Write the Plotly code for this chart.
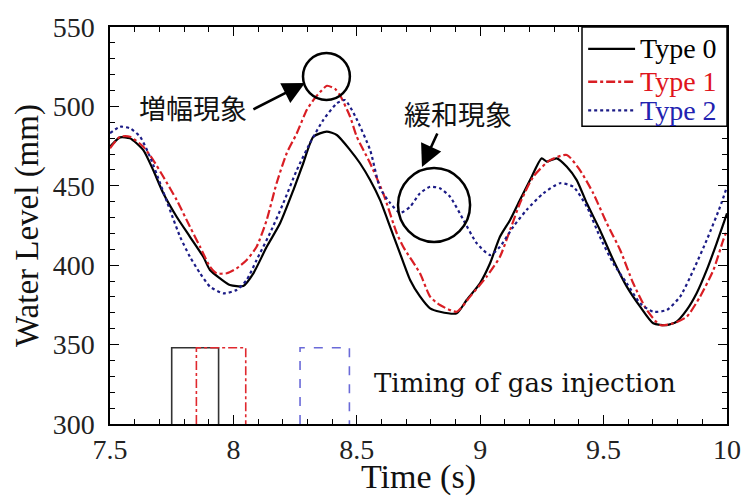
import plotly.graph_objects as go

# Water level time series (s, mm)
t_type0 = [7.500, 7.541, 7.581, 7.635, 7.675, 7.716, 7.770, 7.824, 7.878, 7.905, 7.946, 7.986,
           8.040, 8.081, 8.135, 8.189, 8.243, 8.283, 8.324, 8.378, 8.419, 8.473, 8.513, 8.554,
           8.594, 8.635, 8.675, 8.716, 8.756, 8.797, 8.837, 8.905, 8.945, 8.999, 9.040, 9.080,
           9.121, 9.161, 9.202, 9.249, 9.270, 9.310, 9.351, 9.391, 9.432, 9.485, 9.539, 9.594,
           9.648, 9.701, 9.756, 9.796, 9.837, 9.877, 9.918, 9.958, 10.000]
y_type0 = [474.6, 480.5, 479.9, 472.5, 459.9, 445.3, 430.5, 417.9, 405.3, 397.0, 391.7, 387.5,
           386.9, 394.9, 411.6, 426.4, 447.3, 464.2, 480.9, 484.1, 482.0, 472.5, 464.2, 453.6,
           441.1, 424.2, 407.5, 390.7, 380.3, 372.8, 370.7, 369.7, 378.1, 388.6, 401.2, 417.9,
           428.5, 441.1, 453.6, 467.3, 465.2, 467.3, 462.0, 453.6, 439.0, 422.2, 403.3, 386.5,
           373.9, 363.4, 362.3, 364.4, 371.8, 382.3, 397.0, 413.8, 432.7]

t_type1 = [7.500, 7.541, 7.581, 7.635, 7.675, 7.716, 7.770, 7.824, 7.865, 7.905, 7.932, 7.973,
           8.013, 8.054, 8.094, 8.135, 8.175, 8.216, 8.257, 8.297, 8.324, 8.351, 8.379, 8.412,
           8.432, 8.473, 8.500, 8.554, 8.607, 8.662, 8.688, 8.756, 8.797, 8.837, 8.905, 8.959,
           9.026, 9.080, 9.121, 9.161, 9.215, 9.283, 9.351, 9.404, 9.458, 9.513, 9.567, 9.620,
           9.675, 9.729, 9.783, 9.837, 9.891, 9.945, 9.985, 10.000]
y_type1 = [473.6, 480.9, 480.9, 474.6, 466.2, 455.7, 441.1, 424.2, 411.6, 399.1, 394.9, 394.9,
           398.0, 403.3, 411.6, 428.5, 451.6, 470.5, 483.1, 497.7, 504.0, 509.0, 513.0, 511.0,
           507.0, 493.5, 480.9, 464.2, 445.3, 420.1, 411.6, 394.9, 380.2, 374.9, 370.7, 380.2,
           392.8, 405.3, 422.2, 439.0, 455.7, 466.2, 469.4, 459.9, 445.3, 426.4, 409.6, 388.6,
           371.8, 362.3, 363.4, 367.6, 380.2, 397.0, 415.9, 422.0]

t_type2 = [7.500, 7.541, 7.581, 7.622, 7.662, 7.703, 7.743, 7.784, 7.824, 7.865, 7.905, 7.959,
           8.013, 8.054, 8.094, 8.148, 8.202, 8.257, 8.310, 8.364, 8.419, 8.452, 8.493, 8.554,
           8.594, 8.635, 8.675, 8.716, 8.756, 8.797, 8.837, 8.878, 8.932, 8.986, 9.040, 9.080,
           9.134, 9.188, 9.256, 9.323, 9.377, 9.432, 9.485, 9.539, 9.594, 9.648, 9.701, 9.756,
           9.810, 9.864, 9.918, 9.972, 10.000]
y_type2 = [483.1, 487.2, 486.2, 480.9, 468.3, 451.6, 434.8, 417.9, 405.3, 394.9, 386.5, 382.3,
           384.4, 390.7, 403.3, 420.1, 439.0, 459.9, 476.8, 491.4, 501.9, 504.0, 494.0, 472.5,
           448.6, 439.2, 432.9, 436.8, 445.3, 449.4, 448.4, 443.1, 428.5, 413.8, 406.4, 411.6,
           424.2, 434.8, 445.3, 451.6, 449.4, 436.8, 417.9, 401.2, 388.6, 376.0, 370.7, 371.8,
           380.2, 397.0, 415.9, 436.8, 449.4]

# Gas injection windows (start, end in s) and marker height (mm)
inj_start = [7.75, 7.85, 8.27]
inj_end = [7.94, 8.05, 8.47]
inj_level = 348

series_names = ["Type 0", "Type 1", "Type 2"]
line_colors = ["#000000", "#d91e24", "#1c1c86"]
text_colors = ["#000000", "#e0141c", "#2222b0"]
line_dashes = ["solid", "dashdot", "dot"]
box_colors = ["#333333", "#e0282e", "#6a6ad8"]
box_dashes = ["solid", "dashdot", "dash"]

serif = "Times New Roman"
cjk = "Noto Sans CJK JP"

fig = go.Figure()

# Injection timing rectangles (open at the bottom)
for s, e, c, d in zip(inj_start, inj_end, box_colors, box_dashes):
    fig.add_trace(go.Scatter(
        x=[s, s, e, e], y=[300, inj_level, inj_level, 300],
        mode="lines", line=dict(color=c, width=1.6, dash=d),
        showlegend=False, hoverinfo="skip"))

for t, y, name, lc, dash in zip(
        [t_type0, t_type1, t_type2], [y_type0, y_type1, y_type2],
        series_names, line_colors, line_dashes):
    fig.add_trace(go.Scatter(
        x=t, y=y, mode="lines", name=name, showlegend=False,
        line=dict(color=lc, width=2.2, dash=dash, shape="spline", smoothing=0.6)))

# Legend box in the upper-right corner
leg_x0, leg_x1, leg_y0 = 0.765, 1.0, 0.75
fig.add_shape(type="rect", xref="paper", yref="paper", x0=leg_x0, x1=leg_x1, y0=leg_y0, y1=1.0,
              line=dict(color="black", width=1.5), fillcolor="white", layer="above")
for name, lc, tc, dash, yy in zip(series_names, line_colors, text_colors,
                                  line_dashes, [0.945, 0.862, 0.79]):
    fig.add_shape(type="line", xref="paper", yref="paper", x0=0.775, x1=0.851, y0=yy, y1=yy,
                  line=dict(color=lc, width=2.4, dash=dash), layer="above")
    fig.add_annotation(x=0.856, y=yy, xref="paper", yref="paper", text=name, showarrow=False,
                       xanchor="left", yanchor="middle",
                       font=dict(family=serif, size=28, color=tc))

# Circles highlighting the amplification and relaxation regions
fig.add_shape(type="circle", xref="x", yref="y", x0=8.282, x1=8.472, y0=504.0, y1=533.6,
              line=dict(color="black", width=2.5))
fig.add_shape(type="circle", xref="x", yref="y", x0=8.667, x1=8.959, y0=414.6, y1=461.2,
              line=dict(color="black", width=2.5))

# Arrows
fig.add_annotation(x=8.290, y=514.7, ax=8.075, ay=497.7, xref="x", yref="y",
                   axref="x", ayref="y", text="", showarrow=True,
                   arrowhead=2, arrowsize=1.7, arrowwidth=2.6, arrowcolor="black")
fig.add_annotation(x=8.764, y=461.8, ax=8.829, ay=483.9, xref="x", yref="y",
                   axref="x", ayref="y", text="", showarrow=True,
                   arrowhead=2, arrowsize=1.7, arrowwidth=2.6, arrowcolor="black")

# Labels
fig.add_annotation(x=7.836, y=499.0, text="増幅現象", showarrow=False,
                   font=dict(family=cjk, size=27, color="#111111"))
fig.add_annotation(x=8.910, y=495.8, text="緩和現象", showarrow=False,
                   font=dict(family=cjk, size=27, color="#111111"))
fig.add_annotation(x=9.18, y=325.8, text="Timing of gas injection", showarrow=False,
                   font=dict(family="DejaVu Serif", size=26, color="#111111"))

axis_common = dict(
    showline=True, linecolor="black", linewidth=1.5, mirror="ticks",
    ticks="inside", ticklen=9, tickwidth=1.3, tickcolor="black",
    showgrid=False, zeroline=False,
    tickfont=dict(family=serif, size=28, color="#222222"),
)

fig.update_xaxes(range=[7.5, 10],
                 tickvals=[7.5, 8, 8.5, 9, 9.5, 10], ticktext=["7.5", "8", "8.5", "9", "9.5", "10"],
                 minor=dict(dtick=0.1, tick0=7.5, ticks="inside", ticklen=5, tickwidth=1, tickcolor="black"),
                 title=dict(text="Time (s)", font=dict(family=serif, size=34, color="#111111"), standoff=0),
                 **axis_common)
fig.update_yaxes(range=[300, 550], dtick=50, ticklabelstandoff=8,
                 minor=dict(dtick=10, ticks="inside", ticklen=5, tickwidth=1, tickcolor="black"),
                 title=dict(text="Water Level (mm)", font=dict(family=serif, size=33, color="#111111"), standoff=4),
                 **axis_common)

fig.update_layout(
    template="none",
    width=745, height=496,
    margin=dict(l=110, r=18, t=27, b=72),
    font=dict(family=serif, color="#111111"),
    paper_bgcolor="white", plot_bgcolor="white",
    showlegend=False,
)

fig.write_html("out.html")
